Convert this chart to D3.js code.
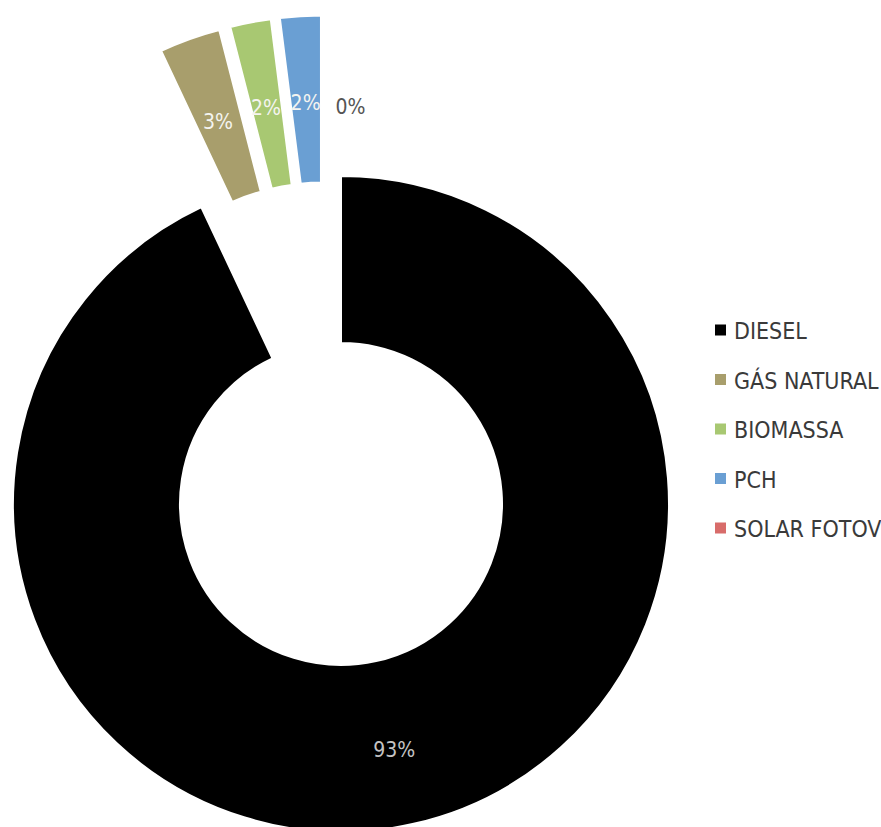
<!DOCTYPE html>
<html>
<head>
<meta charset="utf-8">
<script src="https://cdn.jsdelivr.net/npm/d3@7"></script>
<style>
  html, body { margin: 0; padding: 0; background: #ffffff; }
  svg { display: block; }
  .lbl, .legend text { font-family: "Liberation Sans Narrow", "DejaVu Sans Condensed", "Roboto Condensed", Roboto, sans-serif; }
</style>
</head>
<body>
<div id="chart"></div>
<script>
// Electricity generation mix by source
const categories = ["DIESEL", "GÁS NATURAL", "BIOMASSA", "PCH", "SOLAR FOTOV"];
const shares = [93, 3, 2, 2, 0];
const valueLabels = ["93%", "3%", "2%", "2%", "0%"];
const colors = ["#000000", "#a89e6c", "#a8c872", "#6a9fd3", "#d86c6a"];
const exploded = [false, true, true, true, true];

const width = 881, height = 827;
const cx = 341, cy = 504;
const outerR = 328, innerR = 161;
const groupAngle = -10 * Math.PI / 180; // direction the exploded group is pulled out
const groupOffset = 89;   // shift of the exploded group
const sliceOffset = 73;   // extra pull of each exploded slice along its own bisector

const svg = d3.select("#chart").append("svg")
  .attr("width", width).attr("height", height);

const pie = d3.pie().sort(null).value(d => d.value).startAngle(0).endAngle(2 * Math.PI);
const arcs = pie(categories.map((c, i) => ({ name: c, value: shares[i], label: valueLabels[i], color: colors[i], exploded: exploded[i] })));
const arc = d3.arc().innerRadius(innerR).outerRadius(outerR);

function offset(a) {
  if (!a.data.exploded) return [0, 0];
  const mid = (a.startAngle + a.endAngle) / 2;
  return [
    groupOffset * Math.sin(groupAngle) + sliceOffset * Math.sin(mid),
    -groupOffset * Math.cos(groupAngle) - sliceOffset * Math.cos(mid)
  ];
}

const g = svg.append("g").attr("transform", `translate(${cx},${cy})`);

const slices = g.selectAll("g.slice").data(arcs).join("g")
  .attr("class", "slice")
  .attr("transform", a => { const o = offset(a); return `translate(${o[0]},${o[1]})`; });

slices.filter(a => a.endAngle > a.startAngle)
  .append("path")
  .attr("d", arc)
  .attr("fill", a => a.data.color)
  .attr("stroke", "#ffffff")
  .attr("stroke-width", 2)
  .attr("stroke-linejoin", "miter");

slices.append("text")
  .attr("class", "lbl")
  .each(function (a) {
    const c = arc.centroid(a);
    const sel = d3.select(this);
    if (a.endAngle > a.startAngle) {
      sel.attr("x", c[0]).attr("y", c[1] + (a.index === 0 ? 7 : 4)).attr("text-anchor", "middle")
        .attr("fill", a.index === 0 ? "#c4c4c4" : "#f4f4f0");
    } else {
      sel.attr("x", c[0] + 10).attr("y", c[1] + 8).attr("text-anchor", "start")
        .attr("fill", "#555555");
    }
  })
  .attr("dominant-baseline", "central")
  .attr("font-size", 21)
  .text(a => a.data.label);

// Legend
const legend = svg.append("g").attr("class", "legend").attr("transform", "translate(715,330)");
const rowY = d3.scalePoint().domain(categories).range([0, 198]);
const item = legend.selectAll("g").data(categories).join("g")
  .attr("transform", d => `translate(0,${rowY(d)})`);
item.append("rect")
  .attr("x", 0).attr("y", -5.5).attr("width", 11).attr("height", 11)
  .attr("fill", (d, i) => colors[i]);
item.append("text")
  .attr("x", 19).attr("y", 1)
  .attr("dominant-baseline", "central")
  .attr("font-size", 23)
  .attr("fill", "#3a3a3a")
  .text(d => d);
</script>
</body>
</html>
